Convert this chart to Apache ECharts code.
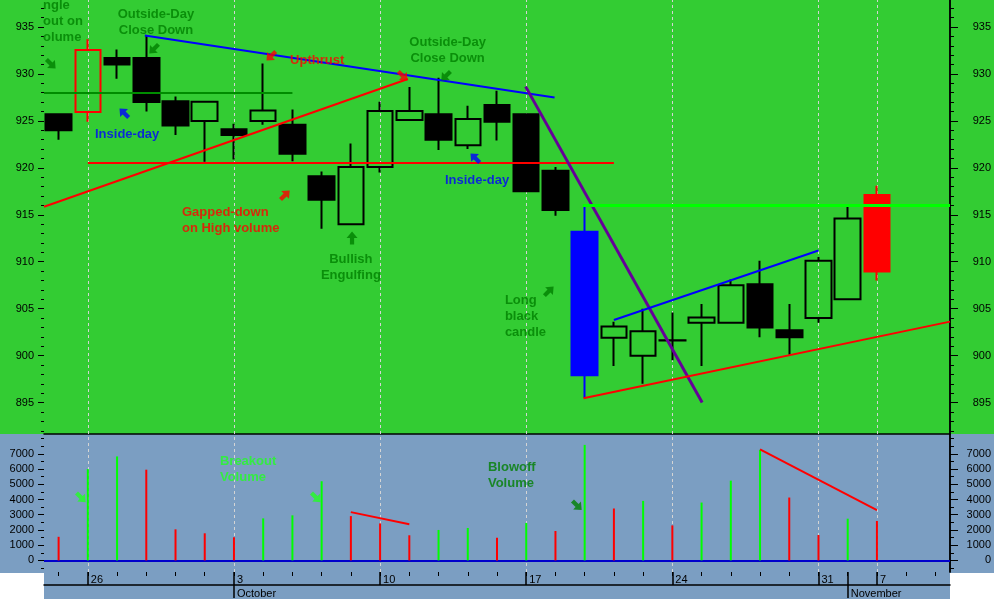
<!DOCTYPE html>
<html>
<head>
<meta charset="utf-8">
<script src="https://cdn.jsdelivr.net/npm/echarts@6/dist/echarts.min.js"></script>
<style>html,body{margin:0;padding:0;background:#fff;}#c{width:994px;height:599px;}</style>
</head>
<body>
<div id="c"></div>
<script>
// ---------------- DATA ----------------
const categories = ['Sep 23','Sep 26','Sep 27','Sep 28','Sep 29','Sep 30','Oct 3','Oct 4','Oct 5','Oct 6','Oct 7','Oct 10','Oct 11','Oct 12','Oct 13','Oct 14','Oct 17','Oct 18','Oct 19','Oct 20','Oct 21','Oct 24','Oct 25','Oct 26','Oct 27','Oct 28','Oct 31','Nov 1','Nov 7','Nov 8','Nov 9'];
const dayTickLabels = ['','26','','','','','3','','','','','10','','','','','17','','','','','24','','','','','31','','7','',''];
const monthTickLabels = ['','','','','','','October','','','','','','','','','','','','','','','','','','','','','November','','',''];
const opens  = [925.7, 925.95, 931.7, 931.7, 927.1, 925.0, 924.1, 925.0, 924.6, 919.1, 914.0, 920.1, 925.1, 925.7, 922.4, 926.7, 925.7, 919.7, 913.2, 901.9, 900.0, 901.65, 903.5, 903.5, 907.6, 902.7, 904.0, 906.0, 917.1];
const closes = [924.0, 932.55, 931.0, 927.0, 924.5, 927.05, 923.5, 926.1, 921.5, 916.6, 920.1, 926.05, 926.05, 923.0, 925.2, 924.9, 917.5, 915.5, 897.9, 903.1, 902.6, 901.6, 904.05, 907.5, 903.0, 901.95, 910.1, 914.6, 908.95];
const lows   = [923.0, 924.9, 929.5, 926.0, 923.5, 920.65, 920.9, 924.6, 920.7, 913.5, 914.0, 919.5, 925.1, 921.9, 922.0, 922.9, 917.5, 914.9, 895.5, 898.9, 897.0, 899.5, 898.9, 903.5, 901.95, 900.1, 903.5, 906.0, 908.0];
const highs  = [925.7, 933.7, 932.6, 934.1, 927.6, 927.05, 924.7, 931.1, 926.2, 919.6, 922.6, 927.05, 928.6, 929.6, 926.6, 928.2, 925.7, 920.1, 915.9, 903.6, 905.0, 904.6, 905.5, 908.1, 910.1, 905.5, 910.5, 915.9, 918.1];
const volumes = [1550, 6000, 6830, 5960, 2040, 1780, 1520, 2760, 2960, 5200, 2910, 2430, 1650, 2000, 2130, 1480, 2460, 1930, 7590, 3410, 3910, 2300, 3800, 5240, 7260, 4130, 1670, 2740, 2590];
const volumeUp = [0,1,1,0,0,0,0,1,1,1,0,0,0,1,1,0,1,0,1,0,1,0,1,1,1,0,0,1,0];
const priceTicks = [895, 900, 905, 910, 915, 920, 925, 930, 935];
const priceMinorTicks = [892,893,894,895,896,897,898,899,900,901,902,903,904,905,906,907,908,909,910,911,912,913,914,915,916,917,918,919,920,921,922,923,924,925,926,927,928,929,930,931,932,933,934,935,936,937];
const volumeTicks = [0, 1000, 2000, 3000, 4000, 5000, 6000, 7000];
const volumeMinorTicks = [-500,0,500,1000,1500,2000,2500,3000,3500,4000,4500,5000,5500,6000,6500,7000,7500,8000];
// trend lines: [x1 (day index), y1, x2, y2]
const priceTrendlines = [
  [2.95, 934.1, 16.97, 927.5],
  [-0.5, 915.86, 11.95, 929.46],
  [1, 920.55, 19.0, 920.55],
  [-0.5, 928.0, 8.0, 928.0],
  [15.98, 928.65, 22.02, 895.0],
  [17.93, 916.0, 30.5, 916.0],
  [19.0, 903.8, 26.0, 911.2],
  [17.96, 895.46, 30.5, 903.62]
];
const volumeTrendlines = [
  [10, 3170, 12, 2370],
  [24, 7300, 28, 3300]
];
// text notes: [text, day index, value]
const priceNotes = [
  ['ngle\nout on\nolume', -0.53, 935.6],
  ['Outside-Day\nClose Down', 3.33, 935.44],
  ['Upthrust', 7.92, 931.49],
  ['Inside-day', 1.245, 923.55],
  ['Gapped-down\non High volume', 4.22, 914.45],
  ['Outside-Day\nClose Down', 13.31, 932.5],
  ['Inside-day', 13.22, 918.7],
  ['Bullish\nEngulfing', 10.0, 909.44],
  ['Long\nblack\ncandle', 15.27, 904.22]
];
const volumeNotes = [
  ['Breakout\nVolume', 5.52, 5954],
  ['Blowoff\nVolume', 14.69, 5597]
];
// arrows: [day index, value, direction]
const priceArrows = [
  [-0.26, 931.06, 'SE'], [3.26, 932.66, 'SW'], [2.24, 925.84, 'NW'], [7.27, 931.91, 'SW'],
  [7.75, 917.11, 'NE'], [10.04, 912.53, 'N'], [13.25, 929.78, 'SW'], [14.25, 921.05, 'NW'],
  [16.78, 906.88, 'NE'], [11.78, 929.78, 'SE']
];
const volumeArrows = [[0.77, 4129, 'SE'], [8.81, 4129, 'SE'], [17.74, 3607, 'SE']];

// ---------------- STYLE ----------------
const FONT = "'Liberation Sans', Arial, sans-serif";
const GREEN_BG = '#33cc33', BLUE_BG = '#7b9ec2';
const DKG = '#008000', RED = '#ff0000', BLUE = '#0000ff', LIME = '#00ff00';
const trendStyles = [
  {color: BLUE, width: 2}, {color: RED, width: 2}, {color: RED, width: 2}, {color: '#008c00', width: 2},
  {color: '#660099', width: 3}, {color: LIME, width: 3}, {color: BLUE, width: 2}, {color: RED, width: 2}
];
const volTrendStyles = [{color: RED, width: 2}, {color: RED, width: 2}];
const noteStyles = [
  {color: DKG, align: 'left'}, {color: DKG, align: 'center'}, {color: RED, align: 'left'},
  {color: BLUE, align: 'left'}, {color: RED, align: 'left'}, {color: DKG, align: 'center'},
  {color: BLUE, align: 'left'}, {color: DKG, align: 'center'}, {color: DKG, align: 'left'}
];
const volNoteStyles = [{color: '#22ff22', align: 'left'}, {color: DKG, align: 'left'}];
const arrowColors = [DKG, DKG, BLUE, RED, RED, DKG, DKG, BLUE, DKG, RED];
const volArrowColors = ['#22ff22', '#22ff22', DKG];
const rot = {N: 0, NE: -45, SE: -135, SW: 135, NW: 45};
const ARROW = 'path://M6,0 L12,7 L8.3,7 L8.3,14 L3.7,14 L3.7,7 L0,7 Z';
const candleOverrides = {
  1: {color: 'rgba(0,0,0,0)', borderColor: RED},
  18: {color0: BLUE, borderColor0: BLUE},
  28: {color0: RED, borderColor0: RED}
};

const P_MIN = 891.654, P_MAX = 937.875, V_MIN = -763, V_MAX = 8304;

const candleData = opens.map((o, i) => {
  const item = {value: [o, closes[i], lows[i], highs[i]]};
  if (candleOverrides[i]) item.itemStyle = candleOverrides[i];
  return item;
});
const volData = volumes.map((v, i) => ({value: v, itemStyle: {color: volumeUp[i] ? LIME : RED}}));

const markDays = dayTickLabels.map((l, i) => l ? i : -1).filter(i => i >= 0);

function yAx(grid, pos, min, max, ticks, len, labels, line, margin, align) {
  return {
    type: 'value', gridIndex: grid, position: pos, min: min, max: max,
    axisLine: {show: line, onZero: false, lineStyle: {color: '#000', width: 1.5}},
    axisTick: {show: true, customValues: ticks, length: len, lineStyle: {color: '#000', width: 1}},
    axisLabel: labels ? {show: true, customValues: ticks, margin: margin, align: align, color: '#000', fontSize: 11, fontFamily: FONT, formatter: v => String(v)} : {show: false},
    splitLine: {show: false}
  };
}

function noteSeries(xi, yi, notes, styles) {
  return {
    type: 'scatter', xAxisIndex: xi, yAxisIndex: yi, z: 6, clip: false, silent: true,
    symbolSize: 0.1, itemStyle: {color: 'rgba(0,0,0,0)'},
    data: notes.map((n, i) => ({
      value: [n[1], n[2]],
      label: {
        show: true, position: 'inside', formatter: n[0], color: styles[i].color,
        align: styles[i].align, verticalAlign: 'middle', fontSize: 13, fontWeight: 'bold',
        fontFamily: FONT, lineHeight: 16
      }
    }))
  };
}
function arrowSeries(xi, yi, arrows, colors) {
  return {
    type: 'scatter', xAxisIndex: xi, yAxisIndex: yi, z: 6, clip: false, silent: true,
    symbol: ARROW, symbolSize: [11, 13],
    data: arrows.map((a, i) => ({value: [a[0], a[1]], symbolRotate: rot[a[2]], itemStyle: {color: colors[i]}}))
  };
}
function lineSeries(xi, yi, lines, styles, z) {
  return {
    type: 'lines', coordinateSystem: 'cartesian2d', xAxisIndex: xi, yAxisIndex: yi, z: z, clip: false, silent: true,
    data: lines.map((l, i) => ({coords: [[l[0], l[1]], [l[2], l[3]]], lineStyle: Object.assign({opacity: 1, type: 'solid', curveness: 0}, styles[i])}))
  };
}
const longTick = (i) => dayTickLabels[i] !== '' || monthTickLabels[i] !== '';

const option = {
  animation: false,
  backgroundColor: '#ffffff',
  graphic: [
    {type: 'rect', silent: true, z: -10, shape: {x: 0, y: 0, width: 994, height: 434}, style: {fill: GREEN_BG}},
    {type: 'rect', silent: true, z: -10, shape: {x: 0, y: 434, width: 994, height: 139}, style: {fill: BLUE_BG}},
    {type: 'rect', silent: true, z: -10, shape: {x: 44, y: 573, width: 906, height: 26}, style: {fill: BLUE_BG}}
  ],
  grid: [
    {left: 44, width: 906, top: 0, height: 434},
    {left: 44, width: 906, top: 434, height: 139}
  ],
  xAxis: [
    {type: 'category', gridIndex: 0, data: categories, boundaryGap: true, show: false},
    {type: 'category', gridIndex: 1, data: categories, boundaryGap: true, position: 'bottom',
      axisLine: {show: false, onZero: false}, axisLabel: {show: false}, splitLine: {show: false},
      axisTick: {show: true, alignWithLabel: true, interval: 0, length: 4, lineStyle: {color: '#000'}}},
    {type: 'category', gridIndex: 1, data: dayTickLabels, boundaryGap: true, position: 'bottom',
      axisLine: {show: false, onZero: false}, splitLine: {show: false},
      axisTick: {show: true, alignWithLabel: true, length: 13, interval: (i) => longTick(i), lineStyle: {color: '#000', width: 1.5}},
      axisLabel: {show: true, interval: (i, v) => v !== '', align: 'left', padding: [0, 0, 0, 3], margin: 2, color: '#000', fontSize: 11, fontFamily: FONT}},
    {type: 'category', gridIndex: 1, data: monthTickLabels, boundaryGap: true, position: 'bottom', offset: 13,
      axisLine: {show: true, onZero: false, lineStyle: {color: '#000', width: 1.5}}, splitLine: {show: false},
      axisTick: {show: true, alignWithLabel: true, length: 13, interval: (i, v) => v !== '', lineStyle: {color: '#000', width: 1.5}},
      axisLabel: {show: true, interval: (i, v) => v !== '', align: 'left', padding: [0, 0, 0, 3], margin: 3, color: '#000', fontSize: 11, fontFamily: FONT}},
    {type: 'value', gridIndex: 0, min: -0.5, max: 30.5, show: false},
    {type: 'value', gridIndex: 1, min: -0.5, max: 30.5, position: 'top',
      axisLine: {show: true, onZero: false, lineStyle: {color: '#000', width: 1.5}}, axisTick: {show: false}, axisLabel: {show: false}, splitLine: {show: false}}
  ],
  yAxis: [
    yAx(0, 'left', P_MIN, P_MAX, priceTicks, 6, true, false, 10, 'right'),
    yAx(0, 'left', P_MIN, P_MAX, priceMinorTicks, 3, false, false, 0),
    yAx(0, 'right', P_MIN, P_MAX, priceTicks, 8, true, true, 41, 'right'),
    yAx(0, 'right', P_MIN, P_MAX, priceMinorTicks, 4, false, true, 0),
    yAx(1, 'left', V_MIN, V_MAX, volumeTicks, 6, true, false, 10, 'right'),
    yAx(1, 'left', V_MIN, V_MAX, volumeMinorTicks, 3, false, false, 0),
    yAx(1, 'right', V_MIN, V_MAX, volumeTicks, 8, true, true, 41, 'right'),
    yAx(1, 'right', V_MIN, V_MAX, volumeMinorTicks, 4, false, true, 0)
  ],
  series: [
    lineSeries(4, 0, markDays.map(d => [d, P_MIN, d, P_MAX]), markDays.map(() => ({color: '#d4d4d4', width: 1, type: [3, 3]})), 1),
    lineSeries(5, 4, markDays.map(d => [d, V_MIN, d, V_MAX]), markDays.map(() => ({color: '#d4d4d4', width: 1, type: [3, 3]})), 1),
    {
      type: 'candlestick', xAxisIndex: 0, yAxisIndex: 0, z: 2, barWidth: 26, silent: true,
      itemStyle: {color: 'rgba(0,0,0,0)', color0: '#000', borderColor: '#000', borderColor0: '#000', borderColorDoji: '#000', borderWidth: 2},
      data: candleData
    },
    {
      type: 'bar', xAxisIndex: 1, yAxisIndex: 4, z: 3, barWidth: 2, silent: true, data: volData
    },
    lineSeries(5, 4, [[-0.5, 0, 30.5, 0]], [{color: '#0000cc', width: 2}], 2),
    lineSeries(4, 0, priceTrendlines, trendStyles, 4),
    lineSeries(5, 4, volumeTrendlines, volTrendStyles, 4),
    noteSeries(4, 0, priceNotes, noteStyles),
    noteSeries(5, 4, volumeNotes, volNoteStyles),
    arrowSeries(4, 0, priceArrows, arrowColors),
    arrowSeries(5, 4, volumeArrows, volArrowColors)
  ]
};
const chart = echarts.init(document.getElementById('c'), null, {renderer: 'canvas', width: 994, height: 599});
chart.setOption(option);
</script>
</body>
</html>
